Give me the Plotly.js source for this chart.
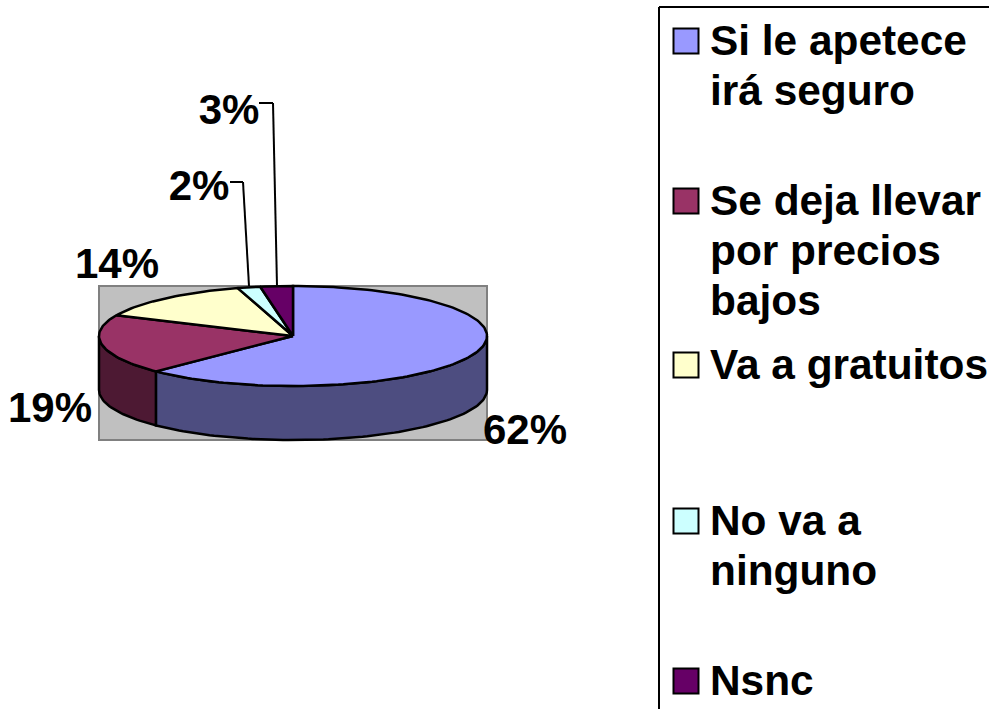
<!DOCTYPE html>
<html><head><meta charset="utf-8">
<script src="https://cdn.plot.ly/plotly-3.0.1.min.js"></script>
<style>html,body{margin:0;padding:0;background:#fff}#c{width:989px;height:709px}</style>
</head><body><div id="c"></div>
<script>
const categories = ["Si le apetece irá seguro","Se deja llevar por precios bajos","Va a gratuitos","No va a ninguno","Nsnc"];
const values = [62.49,19.31,13.6,1.9,2.7];
const topColors = ["#9999FF","#993366","#FFFFCC","#CCFFFF","#660066"];
const sideColors = ["#4D4D80","#4D1933","#808066","#668080","#330033"];
const legendLines = [["Si le apetece","irá seguro"],["Se deja llevar","por precios","bajos"],["Va a gratuitos"],["No va a","ninguno"],["Nsnc"]];
const legendY = [41,201,365,521,681];
const labelPos = [[525,433],[50,411],[117,267],[199,189],[229,113]];

const FONT = "Liberation Sans, Arial, sans-serif";
const cx=293, cy=336, rx=194, ry=50, depth=54, lw=2.5;
const pt=(deg,dy=0)=>{const t=deg*Math.PI/180;return [cx+rx*Math.sin(t), cy-ry*Math.cos(t)+dy];};
const total=values.reduce((a,b)=>a+b,0);
let cum=0; const spans=values.map(v=>{const s=cum/total*360;cum+=v;return [s,cum/total*360];});
const arc=(a,b,dy=0)=>{const o=[];const n=Math.max(2,Math.ceil((b-a)/1.5));for(let i=0;i<=n;i++)o.push(pt(a+(b-a)*i/n,dy));return o;};
const poly=(pts,fill,close=true)=>{const p=close?pts.concat([pts[0]]):pts;return {type:'scatter',mode:'lines',x:p.map(q=>q[0]),y:p.map(q=>q[1]),
  fill:'toself',fillcolor:fill,line:{color:'#000',width:lw},hoverinfo:'skip',showlegend:false};};
const traces=[];
// sides (front half only, clock angle 90..270)
spans.forEach((s,i)=>{const a=Math.max(s[0],90),b=Math.min(s[1],270);if(b>a){
  traces.push(poly(arc(a,b).concat(arc(a,b,depth).reverse()),sideColors[i]));}});
// top faces
spans.forEach((s,i)=>traces.push(poly([[cx,cy]].concat(arc(s[0],s[1])),topColors[i])));
// percent labels
traces.push({type:'scatter',mode:'text',x:labelPos.map(p=>p[0]),y:labelPos.map(p=>p[1]),
  text:values.map(v=>Math.round(v)+'%'),textposition:'middle center',
  textfont:{family:FONT,size:42,color:'#000',weight:700},hoverinfo:'skip',showlegend:false,cliponaxis:false});
// legend swatches
traces.push({type:'scatter',mode:'markers',x:categories.map(()=>686),y:legendY,
  marker:{symbol:'square',size:25,color:topColors,line:{color:'#000',width:2}},hoverinfo:'skip',showlegend:false,text:categories});
// legend text, one entry per wrapped line
const lx=[],ly=[],lt=[];
legendLines.forEach((ls,i)=>ls.forEach((t,j)=>{lx.push(710);ly.push(legendY[i]+3+j*50);lt.push(t);}));
traces.push({type:'scatter',mode:'text',x:lx,y:ly,text:lt,textposition:'middle right',
  textfont:{family:FONT,size:42.4,color:'#000',weight:700},hoverinfo:'skip',showlegend:false,cliponaxis:false});

const ln=(x0,y0,x1,y1,w=2,c='#000')=>({type:'line',xref:'x',yref:'y',x0,y0,x1,y1,line:{color:c,width:w}});
const layout={width:989,height:709,margin:{l:0,r:0,t:0,b:0},paper_bgcolor:'#fff',plot_bgcolor:'#fff',showlegend:false,
  xaxis:{range:[0,989],visible:false,fixedrange:true},
  yaxis:{range:[709,0],visible:false,fixedrange:true},
  shapes:[
   {type:'rect',layer:'below',xref:'x',yref:'y',x0:99,y0:286,x1:487,y1:440,fillcolor:'#C0C0C0',line:{color:'#808080',width:2}},
   ln(259,103,273,103),ln(273,103,277,286),
   ln(230,182,243,182),ln(243,182,249,286),
   ln(659,7,989,7),ln(659,7,659,709)
  ]};
Plotly.newPlot('c',traces,layout,{staticPlot:true,displayModeBar:false});
</script></body></html>
